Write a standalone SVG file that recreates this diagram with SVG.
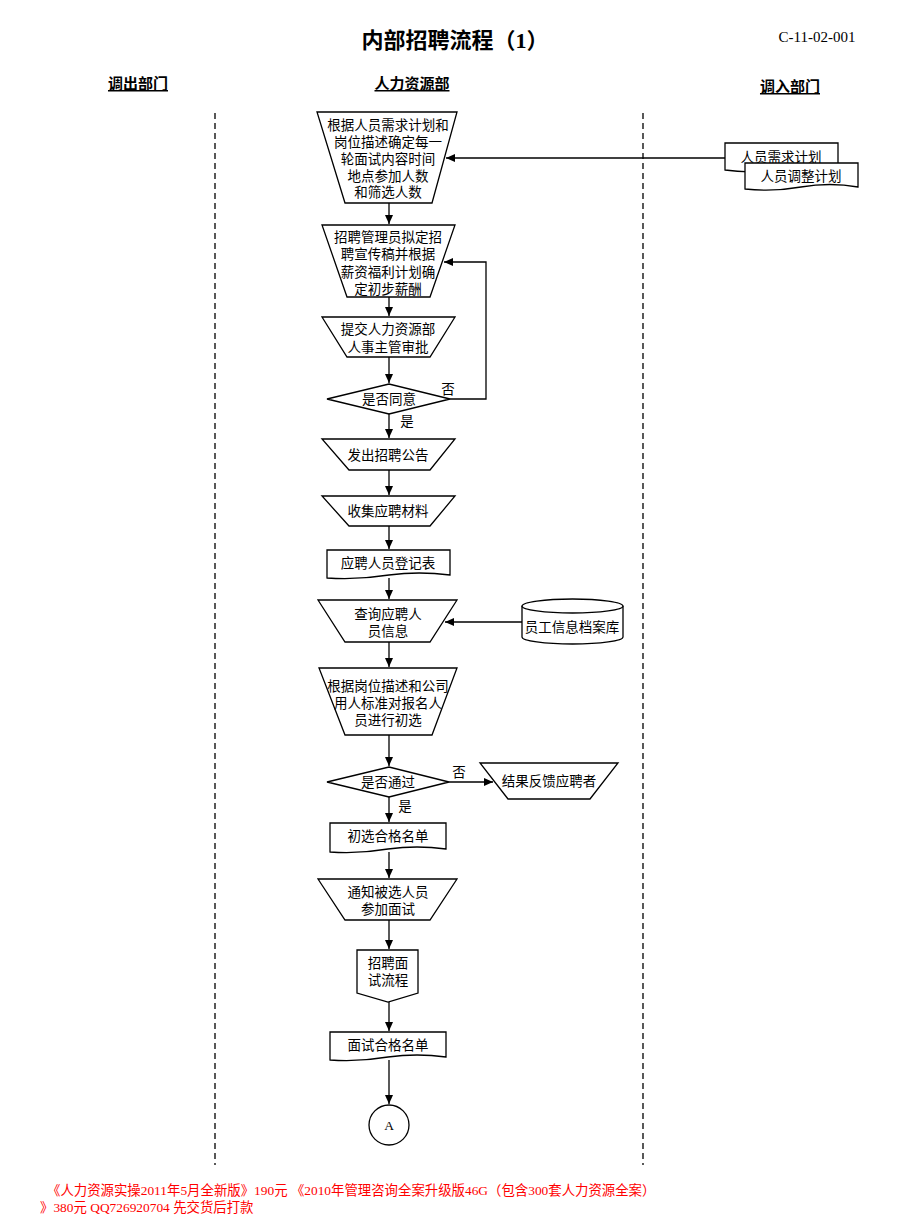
<svg xmlns="http://www.w3.org/2000/svg" width="920" height="1227" viewBox="0 0 920 1227">
<defs>
<marker id="ah" markerWidth="10" markerHeight="10" refX="9" refY="5" orient="auto" markerUnits="userSpaceOnUse">
<path d="M0,1 L9,5 L0,9 Z" fill="#000"/>
</marker>
<style>
.s{fill:#fff;stroke:#000;stroke-width:1.3}
.t{font-family:"Liberation Serif","Noto Sans CJK SC",serif;font-size:13.5px;fill:#000;text-anchor:middle}
.h{font-family:"Liberation Serif","Noto Sans CJK SC",serif;font-size:15px;font-weight:bold;fill:#000;text-anchor:middle;text-decoration:underline}
.c{fill:none;stroke:#000;stroke-width:1.3}
.d{fill:none;stroke:#000;stroke-width:1.3;stroke-dasharray:6,4}
.f{font-family:"Liberation Serif","Noto Sans CJK SC",serif;font-size:13.4px;fill:#ff0000}
</style>
</defs>
<rect width="920" height="1227" fill="#fff"/>
<text x="455" y="48" font-family="Liberation Serif, Noto Sans CJK SC, serif" font-size="22" font-weight="bold" text-anchor="middle">内部招聘流程（1）</text>
<text x="817" y="42" font-family="Liberation Serif, serif" font-size="15" text-anchor="middle">C-11-02-001</text>
<text class="h" x="138" y="89">调出部门</text>
<text class="h" x="412" y="89">人力资源部</text>
<text class="h" x="790" y="92">调入部门</text>
<g id="lanes">
<line class="d" x1="215" y1="113" x2="215" y2="1165"/>
<line class="d" x1="643" y1="113" x2="643" y2="1165"/>
</g>
<g id="connectors">
<path class="c" d="M725,158 H446" marker-end="url(#ah)"/>
<path class="c" d="M389,203 V224" marker-end="url(#ah)"/>
<path class="c" d="M389,297 V316" marker-end="url(#ah)"/>
<path class="c" d="M389,357 V383" marker-end="url(#ah)"/>
<path class="c" d="M450,399 H486 V262 H444" marker-end="url(#ah)"/>
<path class="c" d="M389,414 V438" marker-end="url(#ah)"/>
<path class="c" d="M389,470 V495" marker-end="url(#ah)"/>
<path class="c" d="M389,526 V549" marker-end="url(#ah)"/>
<path class="c" d="M389,578 V599" marker-end="url(#ah)"/>
<path class="c" d="M522,622 H445" marker-end="url(#ah)"/>
<path class="c" d="M389,642 V667" marker-end="url(#ah)"/>
<path class="c" d="M389,735 V766" marker-end="url(#ah)"/>
<path class="c" d="M449,782 H493" marker-end="url(#ah)"/>
<path class="c" d="M389,797 V822" marker-end="url(#ah)"/>
<path class="c" d="M389,852 V878" marker-end="url(#ah)"/>
<path class="c" d="M389,920 V949" marker-end="url(#ah)"/>
<path class="c" d="M389,1002 V1031" marker-end="url(#ah)"/>
<path class="c" d="M389,1060 V1104" marker-end="url(#ah)"/>
<text class="t" x="448" y="394">否</text>
<text class="t" x="407" y="426">是</text>
<text class="t" x="459" y="777">否</text>
<text class="t" x="405" y="811">是</text>
</g>
<g id="n1">
<path class="s" d="M317,112 H457 L432,203 H345 Z"/>
<text class="t" x="388" y="130">根据人员需求计划和</text>
<text class="t" x="388" y="147">岗位描述确定每一</text>
<text class="t" x="388" y="164">轮面试内容时间</text>
<text class="t" x="388" y="181">地点参加人数</text>
<text class="t" x="388" y="197">和筛选人数</text>
</g>
<g id="doc1">
<path class="s" d="M725,143 H838 V169 Q810,164 781,169 Q753,174 725,170 Z"/>
<text class="t" x="781" y="162">人员需求计划</text>
</g>
<g id="doc2">
<path class="s" d="M745,163 H858 V187 Q830,182 801,187 Q773,192 745,189 Z"/>
<text class="t" x="801" y="181">人员调整计划</text>
</g>
<g id="n2">
<path class="s" d="M322,225 H455 L430,297 H347 Z"/>
<text class="t" x="388" y="242">招聘管理员拟定招</text>
<text class="t" x="388" y="259">聘宣传稿并根据</text>
<text class="t" x="388" y="277">薪资福利计划确</text>
<text class="t" x="388" y="294">定初步薪酬</text>
</g>
<g id="n3">
<path class="s" d="M322,317 H455 L430,357 H347 Z"/>
<text class="t" x="388" y="334">提交人力资源部</text>
<text class="t" x="388" y="352">人事主管审批</text>
</g>
<g id="n4">
<path class="s" d="M327,399 L389,384 L450,399 L389,414 Z"/>
<text class="t" x="389" y="404">是否同意</text>
</g>
<g id="n5">
<path class="s" d="M322,439 H455 L430,470 H349 Z"/>
<text class="t" x="388" y="460">发出招聘公告</text>
</g>
<g id="n6">
<path class="s" d="M322,496 H455 L430,526 H349 Z"/>
<text class="t" x="388" y="516">收集应聘材料</text>
</g>
<g id="n7">
<path class="s" d="M327,550 H450 V575 Q419,571 389,575 Q358,580 327,578 Z"/>
<text class="t" x="388" y="568">应聘人员登记表</text>
</g>
<g id="n8">
<path class="s" d="M318,600 H457 L430,642 H345 Z"/>
<text class="t" x="388" y="619">查询应聘人</text>
<text class="t" x="388" y="636">员信息</text>
</g>
<g id="db">
<path class="s" d="M522,606 V637 A50.5,7 0 0,0 623,637 V606"/>
<ellipse class="s" cx="572.5" cy="606" rx="50.5" ry="7"/>
<text class="t" x="572" y="632">员工信息档案库</text>
</g>
<g id="n9">
<path class="s" d="M319,668 H457 L432,735 H345 Z"/>
<text class="t" x="388" y="691">根据岗位描述和公司</text>
<text class="t" x="388" y="708">用人标准对报名人</text>
<text class="t" x="388" y="725">员进行初选</text>
</g>
<g id="n10">
<path class="s" d="M327,782 L389,767 L449,782 L389,797 Z"/>
<text class="t" x="388" y="787">是否通过</text>
</g>
<g id="n11">
<path class="s" d="M480,763 H618 L590,799 H508 Z"/>
<text class="t" x="549" y="786">结果反馈应聘者</text>
</g>
<g id="n12">
<path class="s" d="M330,823 H446 V849 Q417,845 388,849 Q359,854 330,852 Z"/>
<text class="t" x="388" y="841">初选合格名单</text>
</g>
<g id="n13">
<path class="s" d="M318,879 H457 L430,920 H345 Z"/>
<text class="t" x="388" y="897">通知被选人员</text>
<text class="t" x="388" y="914">参加面试</text>
</g>
<g id="n14">
<path class="s" d="M357,950 H418 V993 L388,1002 L357,993 Z"/>
<text class="t" x="388" y="968">招聘面</text>
<text class="t" x="388" y="985">试流程</text>
</g>
<g id="n15">
<path class="s" d="M330,1032 H446 V1057 Q417,1053 388,1057 Q359,1062 330,1060 Z"/>
<text class="t" x="388" y="1050">面试合格名单</text>
</g>
<g id="n16">
<circle class="s" cx="389" cy="1125" r="20"/>
<text class="t" x="389" y="1130">A</text>
</g>
<text class="f" x="47" y="1195">《人力资源实操2011年5月全新版》190元 《2010年管理咨询全案升级版46G（包含300套人力资源全案）</text>
<text class="f" x="40" y="1212">》380元 QQ726920704 先交货后打款</text>
</svg>
